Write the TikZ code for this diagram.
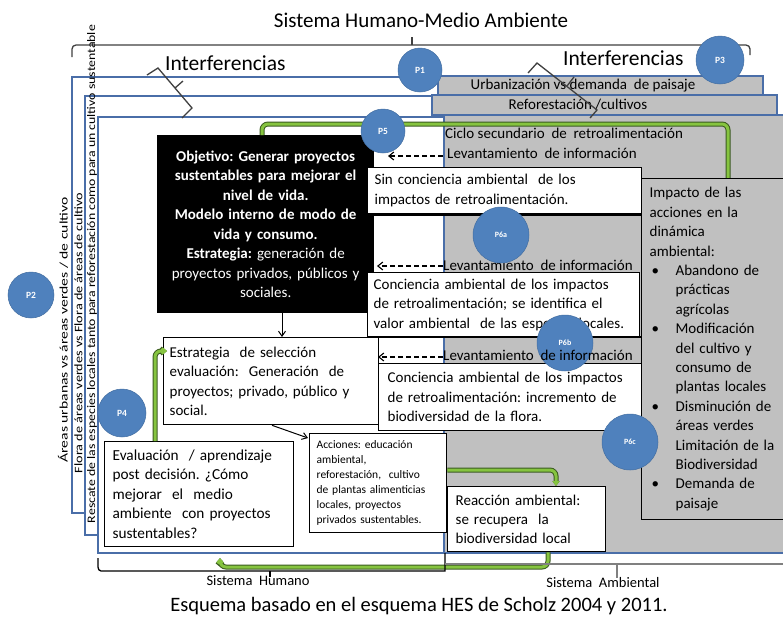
\documentclass[tikz,border=0pt]{standalone}
\usepackage{fontspec}
\setmainfont{Carlito}
\usepackage{graphicx}
\usetikzlibrary{arrows.meta}
\newcommand\fsz[2]{\fontsize{#1}{#2}\selectfont}
\newcommand\bul{\hspace*{2pt}\makebox[24pt][l]{\textbullet}}
\newcommand\ind{\hspace*{26pt}}
\newcommand\jl[2]{\makebox[#1][s]{#2}}
\definecolor{pblue}{HTML}{4F81BD}
\definecolor{rblue}{HTML}{4A6EA8}
\definecolor{graybox}{HTML}{C0C0C0}
\definecolor{lgreen}{HTML}{86C440}
\definecolor{gout}{HTML}{3A5A20}
\tikzset{
  hrect/.style={draw=rblue, line width=1.1pt, fill=white},
  gbox/.style={draw=rblue, line width=1.1pt, fill=graybox},
  wbox/.style={draw=black, line width=1.3pt, fill=white, inner ysep=0pt, inner xsep=7pt, anchor=north west, align=left},
  pcirc/.style={circle, fill=pblue, draw=pblue!85!black, line width=0.5pt, text=white, inner sep=0pt, font=\fsz{9.5}{10}\bfseries},
  gline/.style={line width=3pt, draw=lgreen, rounded corners=6pt, preaction={draw=gout, line width=5pt}},
  brk/.style={draw=black!75, line width=1.3pt},
  dasharrow/.style={draw=black, line width=1.1pt, dash pattern=on 5pt off 3pt, -{Straight Barb[length=5pt,width=8pt]}},
  blarrow/.style={draw=black, line width=1pt, -{Straight Barb[length=5pt,width=7pt]}},
  txt/.style={inner sep=0pt, font=\fsz{15}{17}},
}
\begin{document}
\frenchspacing
\begin{tikzpicture}[x=1pt,y=-1pt]
\useasboundingbox[fill=white] (0,0) rectangle (783,619);

% title and top bracket
\node[inner sep=0pt, font=\fsz{21}{23}] (title) at (421,20) {Sistema Humano-Medio Ambiente};
\draw[brk] (72,57) -- (72,49) to[out=90,in=180] (76,45) -- (746,45) to[out=0,in=90] (750,49) -- (750,55);
\draw[brk] (412,45) -- (412,37);

% human system nested rectangles
\draw[hrect] (72,77) rectangle (443,513);
\draw[hrect] (85,96) rectangle (443,535);
\draw[hrect] (98,117) rectangle (444,553);

% vertical texts
\node[rotate=90, inner sep=0pt] (v1) at (63,330) {\resizebox{265pt}{\height}{\fsz{11.5}{11}Áreas urbanas vs áreas verdes / de cultivo}};
\node[rotate=90, inner sep=0pt] (v2) at (78.5,333) {\resizebox{280pt}{\height}{\fsz{11.5}{11}Flora de áreas verdes vs Flora de áreas de cultivo}};
\node[rotate=90, inner sep=0pt] (v3) at (92,274) {\resizebox{498pt}{\height}{\fsz{11.5}{11}Rescate de las especies locales tanto para reforestación como para un cultivo sustentable}};

% environment gray boxes
\draw[gbox] (438,76) rectangle (763,95);
\draw[gbox] (432,95) rectangle (777,115);
\draw[gbox] (444,115) rectangle (790,553);
\node[txt, font=\fsz{15}{16}] (urb) at (583,86) {Urbanización vs demanda\ \ de paisaje};
\node[txt, font=\fsz{15}{16}] (ref) at (578,105) {Reforestación /cultivos};

% interference brackets
\node[inner sep=0pt, font=\fsz{21.5}{23}, anchor=west] (int1) at (165,63) {Interferencias};
\node[inner sep=0pt, font=\fsz{21.5}{23}, anchor=west] (int2) at (563,58) {Interferencias};
\draw[brk] (147,75) -- (158,68) -- (192,108) -- (182,118);
\draw[brk] (175,88) -- (183,81);
\draw[brk] (528,73) -- (537,63) -- (597,110) -- (590,118);
\draw[brk] (567,86) -- (574,77);

% extra outline lines
\draw[black, line width=1.1pt] (373,215) -- (641,215);
\draw[black, line width=1.1pt] (378,337) -- (641,337);

% objective box
\node[draw=black, fill=black, line width=1.3pt, anchor=north west, minimum width=216pt, minimum height=177pt, text width=208pt, inner xsep=4pt, inner ysep=0pt, align=center, text=white, font=\fsz{15}{19.5}] (obj) at (157,135)
{\textbf{Objetivo: Generar proyectos}\\\textbf{sustentables para mejorar el}\\\textbf{nivel de vida.}\\\textbf{Modelo interno de modo de}\\\textbf{vida y consumo.}\\\textbf{Estrategia:} generación de\\proyectos privados, públicos y\\sociales.};

% green secondary loop
\coordinate (gl1) at (728,178);
\draw[gline] (obj.north -| 262,0) -- (262,124) -- (728,124) -- (gl1);

\node[txt, anchor=west] (ciclo) at (445,133) {Ciclo secundario\ \ de\ \ retroalimentación};
\node[txt, anchor=west] (lev1) at (447,153) {Levantamiento\ \ de información};

% feedback boxes
\node[wbox, text width=260pt, minimum height=46pt, font=\fsz{15}{19.4}] (sin) at (367,167) {Sin conciencia ambiental\ \ de los\\impactos de retroalimentación.};
\node[txt, anchor=west] (lev2) at (443,265) {Levantamiento\ \ de información};
\node[wbox, text width=260pt, inner xsep=6pt, minimum height=64pt, font=\fsz{15}{19.4}] (con1) at (367,272) {\jl{245pt}{Conciencia ambiental de los impactos}\\\jl{240pt}{de retroalimentación; se identifica el}\\valor ambiental\ \ de las especies locales.};
\node[wbox, text width=257pt, inner xsep=9pt, minimum height=67pt, font=\fsz{15}{19.4}] (con2) at (378,363) {\jl{243pt}{Conciencia ambiental de los impactos}\\\jl{240pt}{de retroalimentación: incremento de}\\biodiversidad de la flora.};

% impact box
\node[draw=black, fill=graybox, line width=1.3pt, anchor=north west, text width=134pt, inner xsep=8pt, inner ysep=0pt, minimum height=341pt, align=left, font=\fsz{15}{19.4}] (imp) at (641,178)
{Impacto de las\\acciones en la\\dinámica\\ambiental:\\
\bul Abandono de\\\ind prácticas\\\ind agrícolas\\
\bul Modificación\\\ind del cultivo y\\\ind consumo de\\\ind plantas locales\\
\bul Disminución de\\\ind áreas verdes\\\ind Limitación de la\\\ind Biodiversidad\\
\bul Demanda de\\\ind paisaje};

% human side boxes
\node[wbox, text width=203pt, inner xsep=6pt, minimum height=87pt, font=\fsz{15}{19.5}] (estr) at (163,337) {Estrategia\ \ de selección\\evaluación:\ \ Generación\ \ de\\proyectos; privado, público y\\social.};
\node[wbox, text width=173pt, inner xsep=8pt, minimum height=105pt, font=\fsz{15.3}{19.5}] (eval) at (104,441) {Evaluación\ \ / aprendizaje\\post decisión. ¿Cómo\\mejorar\ \ el\ \ medio\\ambiente\ \ con proyectos\\sustentables?};
\node[wbox, text width=123pt, inner xsep=7pt, minimum height=99pt, font=\fsz{11.5}{15}] (acc) at (309,433) {Acciones: educación\\ambiental,\\reforestación,\ \ cultivo\\de plantas alimenticias\\locales, proyectos\\privados sustentables.};
\node[wbox, text width=142pt, inner xsep=8pt, minimum height=65pt, font=\fsz{15}{19}] (reac) at (447,486) {Reacción ambiental:\\se recupera\ \ la\\biodiversidad local};

% black arrows
\draw[blarrow] (obj.south -| 282,0) -- (estr.north -| 282,0);
\draw[blarrow] (estr.south -| 272,0) -- (308,438);

% dashed feedback arrows
\coordinate (d1) at (388,156);
\coordinate (d2) at (377,266);
\coordinate (d3) at (378,357);
\draw[dasharrow] (443,156) -- (d1);
\draw[dasharrow] (443,266) -- (d2);
\draw[dasharrow] (443,357) -- (d3);

% green loops
\draw[gline, -{Straight Barb[length=3pt,width=5pt]}] (eval.north -| 155,0) -- (155,351) -- (167,351);
\draw[gline, -{Triangle[length=5pt,width=7pt]}] (acc.east |- 0,470) -- (556,470) -- (reac.north -| 556,0);
\draw[gline, -{Straight Barb[length=3pt,width=5pt]}] (reac.south -| 548,0) -- (548,567) -- (220,567) -- (220,558);

% circles
\node[pcirc, minimum size=44pt] (p1) at (420,70) {P1};
\node[pcirc, minimum size=48pt] (p3) at (720,60) {P3};
\node[pcirc, minimum size=44pt] (p5) at (383,131) {P5};
\node[pcirc, minimum size=46pt] (p2) at (31,295) {P2};
\node[pcirc, minimum size=48pt] (p4) at (122,413) {P4};
\node[pcirc, minimum size=56pt, font=\fsz{8}{9}\bfseries] (p6a) at (501,235) {P6a};
\node[pcirc, minimum size=56pt, font=\fsz{8}{9}\bfseries] (p6b) at (565,343) {P6b};
\node[pcirc, minimum size=56pt, font=\fsz{8}{9}\bfseries] (p6c) at (630,442) {P6c};

\node[txt, anchor=west] (lev3) at (443,355) {Levantamiento\ \ de información};

% bottom brackets
\draw[brk, black] (98,558) -- (98,567) to[out=-90,in=180] (101,571) -- (445,571) -- (445,553);
\draw[brk, black] (270,571) -- (270,577);
\draw[draw=gray, line width=1.3pt] (445,564) -- (783,564);
\draw[draw=gray, line width=1.3pt] (617,564) -- (617,578);
\node[inner sep=0pt, font=\fsz{14.5}{15}] (sh) at (258,581) {Sistema\ \ Humano};
\node[inner sep=0pt, font=\fsz{14.5}{15}] (sa) at (603,583) {Sistema\ \ Ambiental};

% caption
\node[inner sep=0pt, font=\fsz{20.5}{22}] (cap) at (419,606) {Esquema basado en el esquema HES de Scholz 2004 y 2011.};
\end{tikzpicture}
\end{document}
